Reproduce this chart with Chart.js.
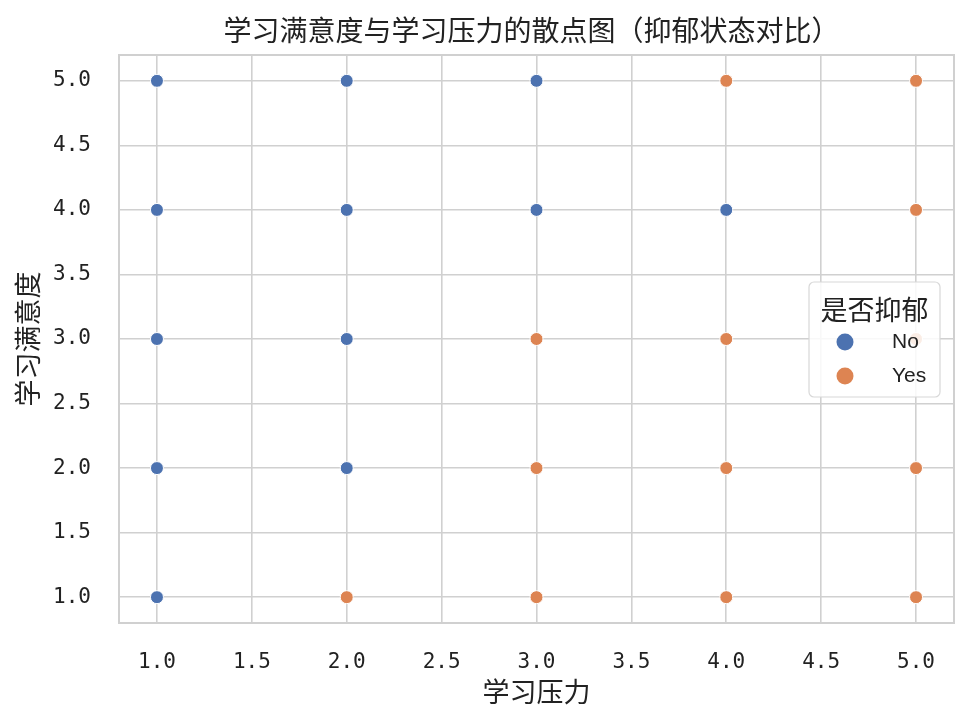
<!DOCTYPE html>
<html>
<head>
<meta charset="utf-8">
<script src="https://cdn.jsdelivr.net/npm/chart.js@4.4.1/dist/chart.umd.min.js"></script>
<style>
  html, body { margin: 0; padding: 0; background: #ffffff; }
  #wrap { width: 969px; height: 725px; position: relative; }
</style>
</head>
<body>
<div id="wrap"><canvas id="c"></canvas></div>
<script>
// ---- data ----
const groupLabels = ['No', 'Yes'];
const noStress        = [1, 1, 1, 1, 1, 2, 2, 2, 2, 3, 3, 4];
const noSatisfaction  = [5, 4, 3, 2, 1, 5, 4, 3, 2, 5, 4, 4];
const yesStress       = [2, 3, 3, 3, 4, 4, 4, 4, 5, 5, 5, 5, 5];
const yesSatisfaction = [1, 3, 2, 1, 5, 3, 2, 1, 5, 4, 3, 2, 1];
const xTickValues = [1.0, 1.5, 2.0, 2.5, 3.0, 3.5, 4.0, 4.5, 5.0];
const yTickValues = [1.0, 1.5, 2.0, 2.5, 3.0, 3.5, 4.0, 4.5, 5.0];
const titleText = '学习满意度与学习压力的散点图（抑郁状态对比）';
const xTitle = '学习压力';
const yTitle = '学习满意度';
const legendTitle = '是否抑郁';

const colors = ['#4c72b0', '#dd8452'];
const gridColor = '#d0d0d0';
const textColor = '#222222';
const cjk = '"Noto Sans CJK SC", "Noto Sans", sans-serif';
const tickFont = '"DejaVu Sans Mono", monospace';

function pts(xs, ys) { return xs.map((x, i) => ({ x: x, y: ys[i] })); }

const frameAndLegend = {
  id: 'frameAndLegend',
  beforeDraw(chart) {
    const ctx = chart.ctx;
    ctx.save();
    ctx.fillStyle = '#ffffff';
    ctx.fillRect(0, 0, chart.width, chart.height);
    ctx.restore();
  },
  afterDatasetsDraw(chart) {
    const ctx = chart.ctx;
    const a = chart.chartArea;
    ctx.save();
    ctx.strokeStyle = gridColor;
    ctx.lineWidth = 2;
    ctx.strokeRect(a.left, a.top, a.right - a.left, a.bottom - a.top);
    ctx.restore();
  },
  afterDraw(chart) {
    const ctx = chart.ctx;
    const a = chart.chartArea;
    ctx.save();
    // title centred over the plotting area
    ctx.fillStyle = textColor;
    ctx.textBaseline = 'middle';
    ctx.textAlign = 'center';
    ctx.font = '28px ' + cjk;
    ctx.fillText(titleText, (a.left + a.right) / 2 - 5, a.top - 25);

    const bx = a.right - 145, by = a.top + 227, bw = 131, bh = 115, r = 5;
    ctx.globalAlpha = 0.85;
    ctx.fillStyle = '#ffffff';
    ctx.beginPath();
    ctx.roundRect(bx, by, bw, bh, r);
    ctx.fill();
    ctx.globalAlpha = 1;
    ctx.strokeStyle = '#d8d8d8';
    ctx.lineWidth = 1.2;
    ctx.stroke();
    ctx.fillStyle = textColor;
    ctx.textAlign = 'center';
    ctx.font = '27px ' + cjk;
    ctx.fillText(legendTitle, bx + bw / 2, by + 28);
    chart.data.datasets.forEach((ds, i) => {
      const cy = by + 60 + i * 34;
      ctx.beginPath();
      ctx.arc(bx + 36, cy, 8.5, 0, Math.PI * 2);
      ctx.fillStyle = ds.backgroundColor;
      ctx.fill();
      ctx.fillStyle = textColor;
      ctx.textAlign = 'left';
      ctx.font = '21px "Liberation Sans", Arial, sans-serif';
      ctx.fillText(ds.label, bx + 83, cy);
    });
    ctx.restore();
  }
};

new Chart(document.getElementById('c'), {
  type: 'scatter',
  data: {
    datasets: [
      { label: groupLabels[0], data: pts(noStress, noSatisfaction), backgroundColor: colors[0], borderColor: '#ffffff', borderWidth: 1, pointRadius: 6.5, pointHoverRadius: 6.5 },
      { label: groupLabels[1], data: pts(yesStress, yesSatisfaction), backgroundColor: colors[1], borderColor: '#ffffff', borderWidth: 1, pointRadius: 6.5, pointHoverRadius: 6.5, order: 1 }
    ]
  },
  options: {
    responsive: true,
    maintainAspectRatio: false,
    animation: false,
    layout: { padding: { left: 0, right: 15, top: 55, bottom: 0 } },
    plugins: {
      legend: { display: false },
      tooltip: { enabled: false },
      title: { display: false }
    },
    scales: {
      x: {
        type: 'linear',
        min: 0.8, max: 5.2,
        afterBuildTicks: s => { s.ticks = xTickValues.map(v => ({ value: v })); },
        afterFit: s => { s.height = 102; },
        grid: { color: gridColor, lineWidth: 1.6, drawTicks: false },
        border: { display: false },
        ticks: {
          padding: 27,
          color: textColor,
          font: { family: tickFont, size: 21 },
          callback: v => Number(v).toFixed(1),
          maxRotation: 0, autoSkip: false
        },
        title: {
          display: true, text: xTitle, color: textColor,
          font: { family: cjk, size: 27 },
          padding: { top: 0, bottom: 17 }
        }
      },
      y: {
        type: 'linear',
        min: 0.8, max: 5.2,
        afterBuildTicks: s => { s.ticks = yTickValues.map(v => ({ value: v })); },
        afterFit: s => { s.width = 119; },
        grid: { color: gridColor, lineWidth: 1.6, drawTicks: false },
        border: { display: false },
        ticks: {
          padding: 28,
          color: textColor,
          font: { family: tickFont, size: 21 },
          callback: v => Number(v).toFixed(1),
          autoSkip: false
        },
        title: {
          display: true, text: yTitle, color: textColor,
          font: { family: cjk, size: 27 },
          padding: { top: 12, bottom: 0 }
        }
      }
    }
  },
  plugins: [frameAndLegend]
});
</script>
</body>
</html>
